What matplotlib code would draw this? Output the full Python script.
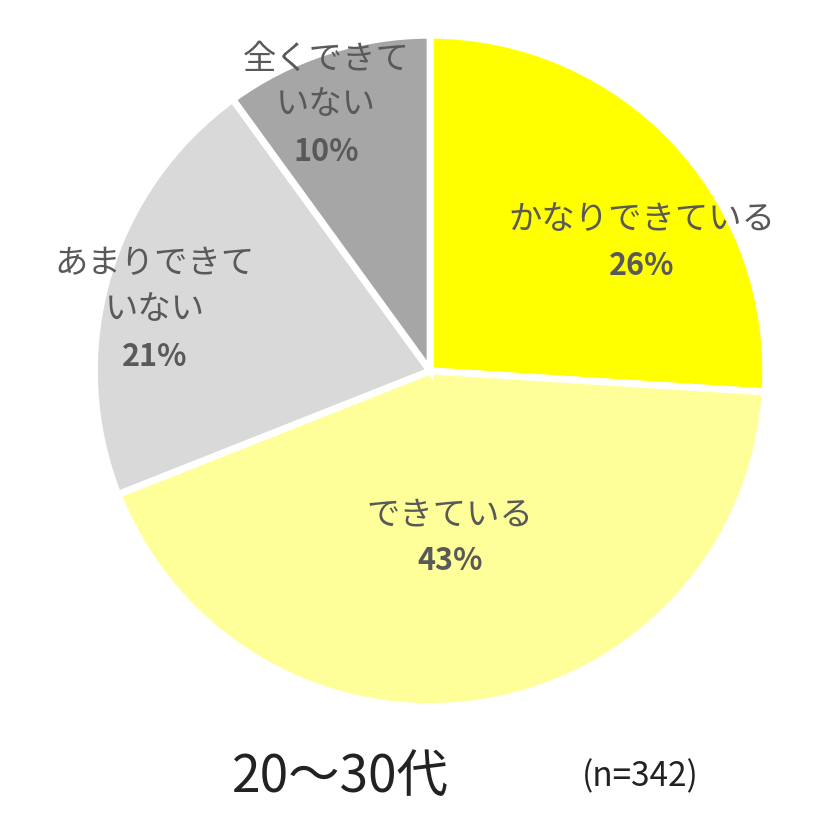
import matplotlib.pyplot as plt

plt.rcParams['font.family'] = ['Noto Sans CJK JP', 'DejaVu Sans']

categories = ['かなりできている', 'できている', 'あまりできて\nいない', '全くできて\nいない']
values = [26, 43, 21, 10]
colors = ['#FFFF00', '#FFFF99', '#D9D9D9', '#A6A6A6']
# label positions in data coords (radius units)
label_pos = [(0.63, 0.40), (0.06, -0.48), (-0.82, 0.13), (-0.31, 0.74)]

fig = plt.figure(figsize=(8.4, 8.16), dpi=100)
ax = fig.add_axes([0.108, 0.13, 0.808, 0.831])
ax.pie(values, colors=colors, startangle=90, counterclock=False,
       wedgeprops=dict(edgecolor='white', linewidth=5), radius=1)
ax.set_xlim(-1.01, 1.01)
ax.set_ylim(-1.01, 1.01)
ax.set_aspect('equal')
ax.axis('off')

for cat, v, (x, y) in zip(categories, values, label_pos):
    ax.text(x, y, cat, ha='center', va='bottom', fontsize=24,
            color='#595959', linespacing=1.4)
    ax.text(x, y - 0.04, f'{v}%', ha='center', va='top', fontsize=22,
            color='#595959', fontweight='bold')

fig.text(0.405, 0.048, '20～30代', ha='center', va='center', fontsize=37, color='#222222')
fig.text(0.762, 0.048, '(n=342)', ha='center', va='center', fontsize=24, color='#222222')

fig.savefig('out.png', dpi=100)
